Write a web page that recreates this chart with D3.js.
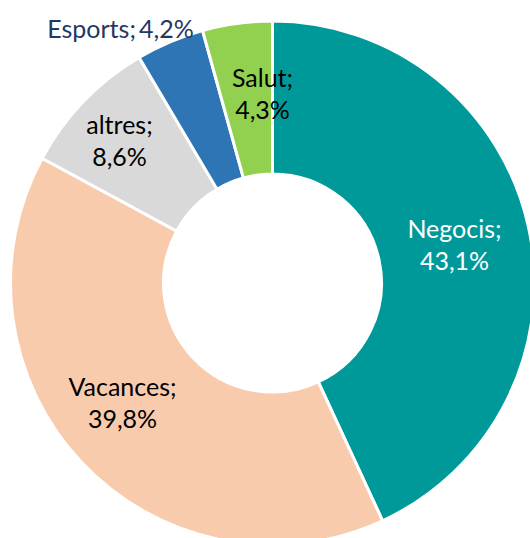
<!DOCTYPE html>
<html>
<head>
<meta charset="utf-8">
<script src="https://cdn.jsdelivr.net/npm/d3@7"></script>
<style>
  body { margin: 0; background: #fff; }
  text { font-family: Lato, "Open Sans", sans-serif; }
</style>
</head>
<body>
<div id="chart"></div>
<script>
// data
var categories = ["Negocis", "Vacances", "altres", "Esports", "Salut"];
var shares = [43.1, 39.8, 8.6, 4.2, 4.3];
var colors = ["#009999", "#F8CBAD", "#D9D9D9", "#2E75B6", "#92D050"];
var labelColors = ["#ffffff", "#000000", "#000000", "#1F3864", "#000000"];
// label anchor offsets from the chart centre (Excel places them by hand-ish)
var labelOffsets = [[182, -30], [-150, 128], [-153, -134], [-152, -253], [-10, -181]];
var singleLine = [false, false, false, true, false];

var width = 530, height = 538;
var cx = 272.5, cy = 283;
var outerR = 262, innerR = 109;

var data = categories.map(function (c, i) {
  return { name: c, value: shares[i], color: colors[i], lc: labelColors[i], off: labelOffsets[i], one: singleLine[i] };
});

var fmt = function (v) { return v.toFixed(1).replace(".", ",") + "%"; };

var svg = d3.select("#chart").append("svg")
  .attr("width", width)
  .attr("height", height);

var g = svg.append("g").attr("transform", "translate(" + cx + "," + cy + ")");

var pie = d3.pie().sort(null).value(function (d) { return d.value; });
var arc = d3.arc().innerRadius(innerR).outerRadius(outerR);

g.selectAll("path.slice")
  .data(pie(data))
  .join("path")
    .attr("class", "slice")
    .attr("d", arc)
    .attr("fill", function (d) { return d.data.color; })
    .attr("stroke", "#fff")
    .attr("stroke-width", 3)
    .attr("stroke-linejoin", "miter");

var labels = g.selectAll("text.lbl")
  .data(data)
  .join("text")
    .attr("class", "lbl")
    .attr("text-anchor", "middle")
    .attr("font-size", 25)
    .attr("fill", function (d) { return d.lc; })
    .attr("transform", function (d) { return "translate(" + d.off[0] + "," + d.off[1] + ")"; });

labels.each(function (d) {
  var t = d3.select(this);
  if (d.one) {
    t.append("tspan").attr("x", 0).attr("y", 8).text(d.name + ";\u2009" + fmt(d.value));
  } else {
    t.append("tspan").attr("x", 0).attr("y", -15).text(d.name + ";");
    t.append("tspan").attr("x", 0).attr("y", 17).text(fmt(d.value));
  }
});
</script>
</body>
</html>
